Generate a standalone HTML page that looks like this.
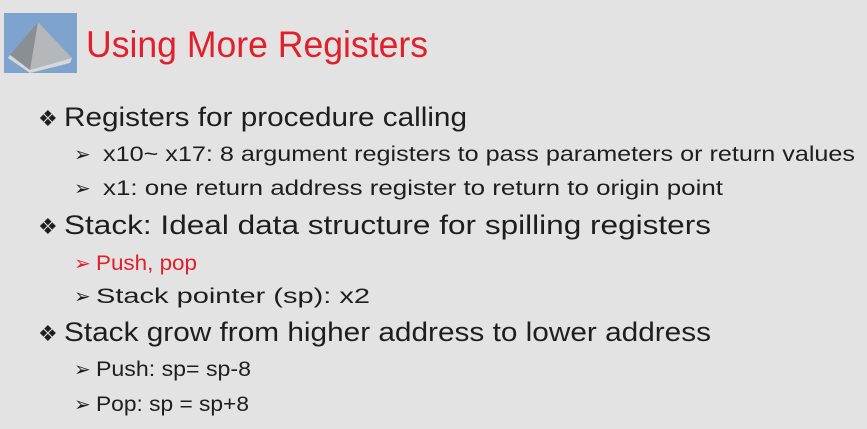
<!DOCTYPE html>
<html><head><meta charset="utf-8"><style>
html,body{margin:0;padding:0;background:#e3e3e3;}
svg{display:block;}
text{font-family:"Liberation Sans",sans-serif;fill:#1e1e1e;}
</style></head><body>
<svg width="867" height="429" viewBox="0 0 867 429" xmlns="http://www.w3.org/2000/svg">
<rect width="867" height="429" fill="#e3e3e3"/>
<rect x="4" y="13" width="73" height="60" fill="#7fa3cf"/>
<polygon points="38,22 10,55 30,70 72,58" fill="#8a8f94"/>
<polygon points="38,22 30,70 72,58" fill="#b5b8bb"/>
<polygon points="10,55 30,70 72,58 70,63 30,73 8,58" fill="#d8d8d8"/>
<text x="86" y="57" font-size="37" style="fill:#e0202a" textLength="342" lengthAdjust="spacingAndGlyphs">Using More Registers</text>

<g font-size="27">
<text x="38" y="126" font-size="22">❖</text>
<text x="64" y="126" textLength="403" lengthAdjust="spacingAndGlyphs">Registers for procedure calling</text>
<text x="38" y="234" font-size="22">❖</text>
<text x="64" y="234" textLength="647" lengthAdjust="spacingAndGlyphs">Stack:  Ideal data structure for spilling registers</text>
<text x="38" y="341" font-size="22">❖</text>
<text x="64" y="341" textLength="647" lengthAdjust="spacingAndGlyphs">Stack grow from higher address to lower address</text>
</g>
<g font-size="21">
<text x="74" y="161" font-size="20">➢</text>
<text x="103" y="161" textLength="752" lengthAdjust="spacingAndGlyphs">x10~ x17: 8 argument registers to pass parameters or return values</text>
<text x="74" y="195" font-size="20">➢</text>
<text x="103" y="195" textLength="620" lengthAdjust="spacingAndGlyphs">x1: one return address register to return to origin point</text>
<text x="74" y="270" font-size="20" style="fill:#e0202a">➢</text>
<text x="96" y="270" style="fill:#e0202a" textLength="101" lengthAdjust="spacingAndGlyphs">Push, pop</text>
<text x="74" y="303" font-size="20">➢</text>
<text x="96" y="303" textLength="274" lengthAdjust="spacingAndGlyphs">Stack pointer (sp): x2</text>
<text x="74" y="376" font-size="20">➢</text>
<text x="96" y="376" textLength="155" lengthAdjust="spacingAndGlyphs">Push: sp= sp-8</text>
<text x="74" y="411" font-size="20">➢</text>
<text x="96" y="411" textLength="153" lengthAdjust="spacingAndGlyphs">Pop:  sp = sp+8</text>
</g>
</svg>
</body></html>
